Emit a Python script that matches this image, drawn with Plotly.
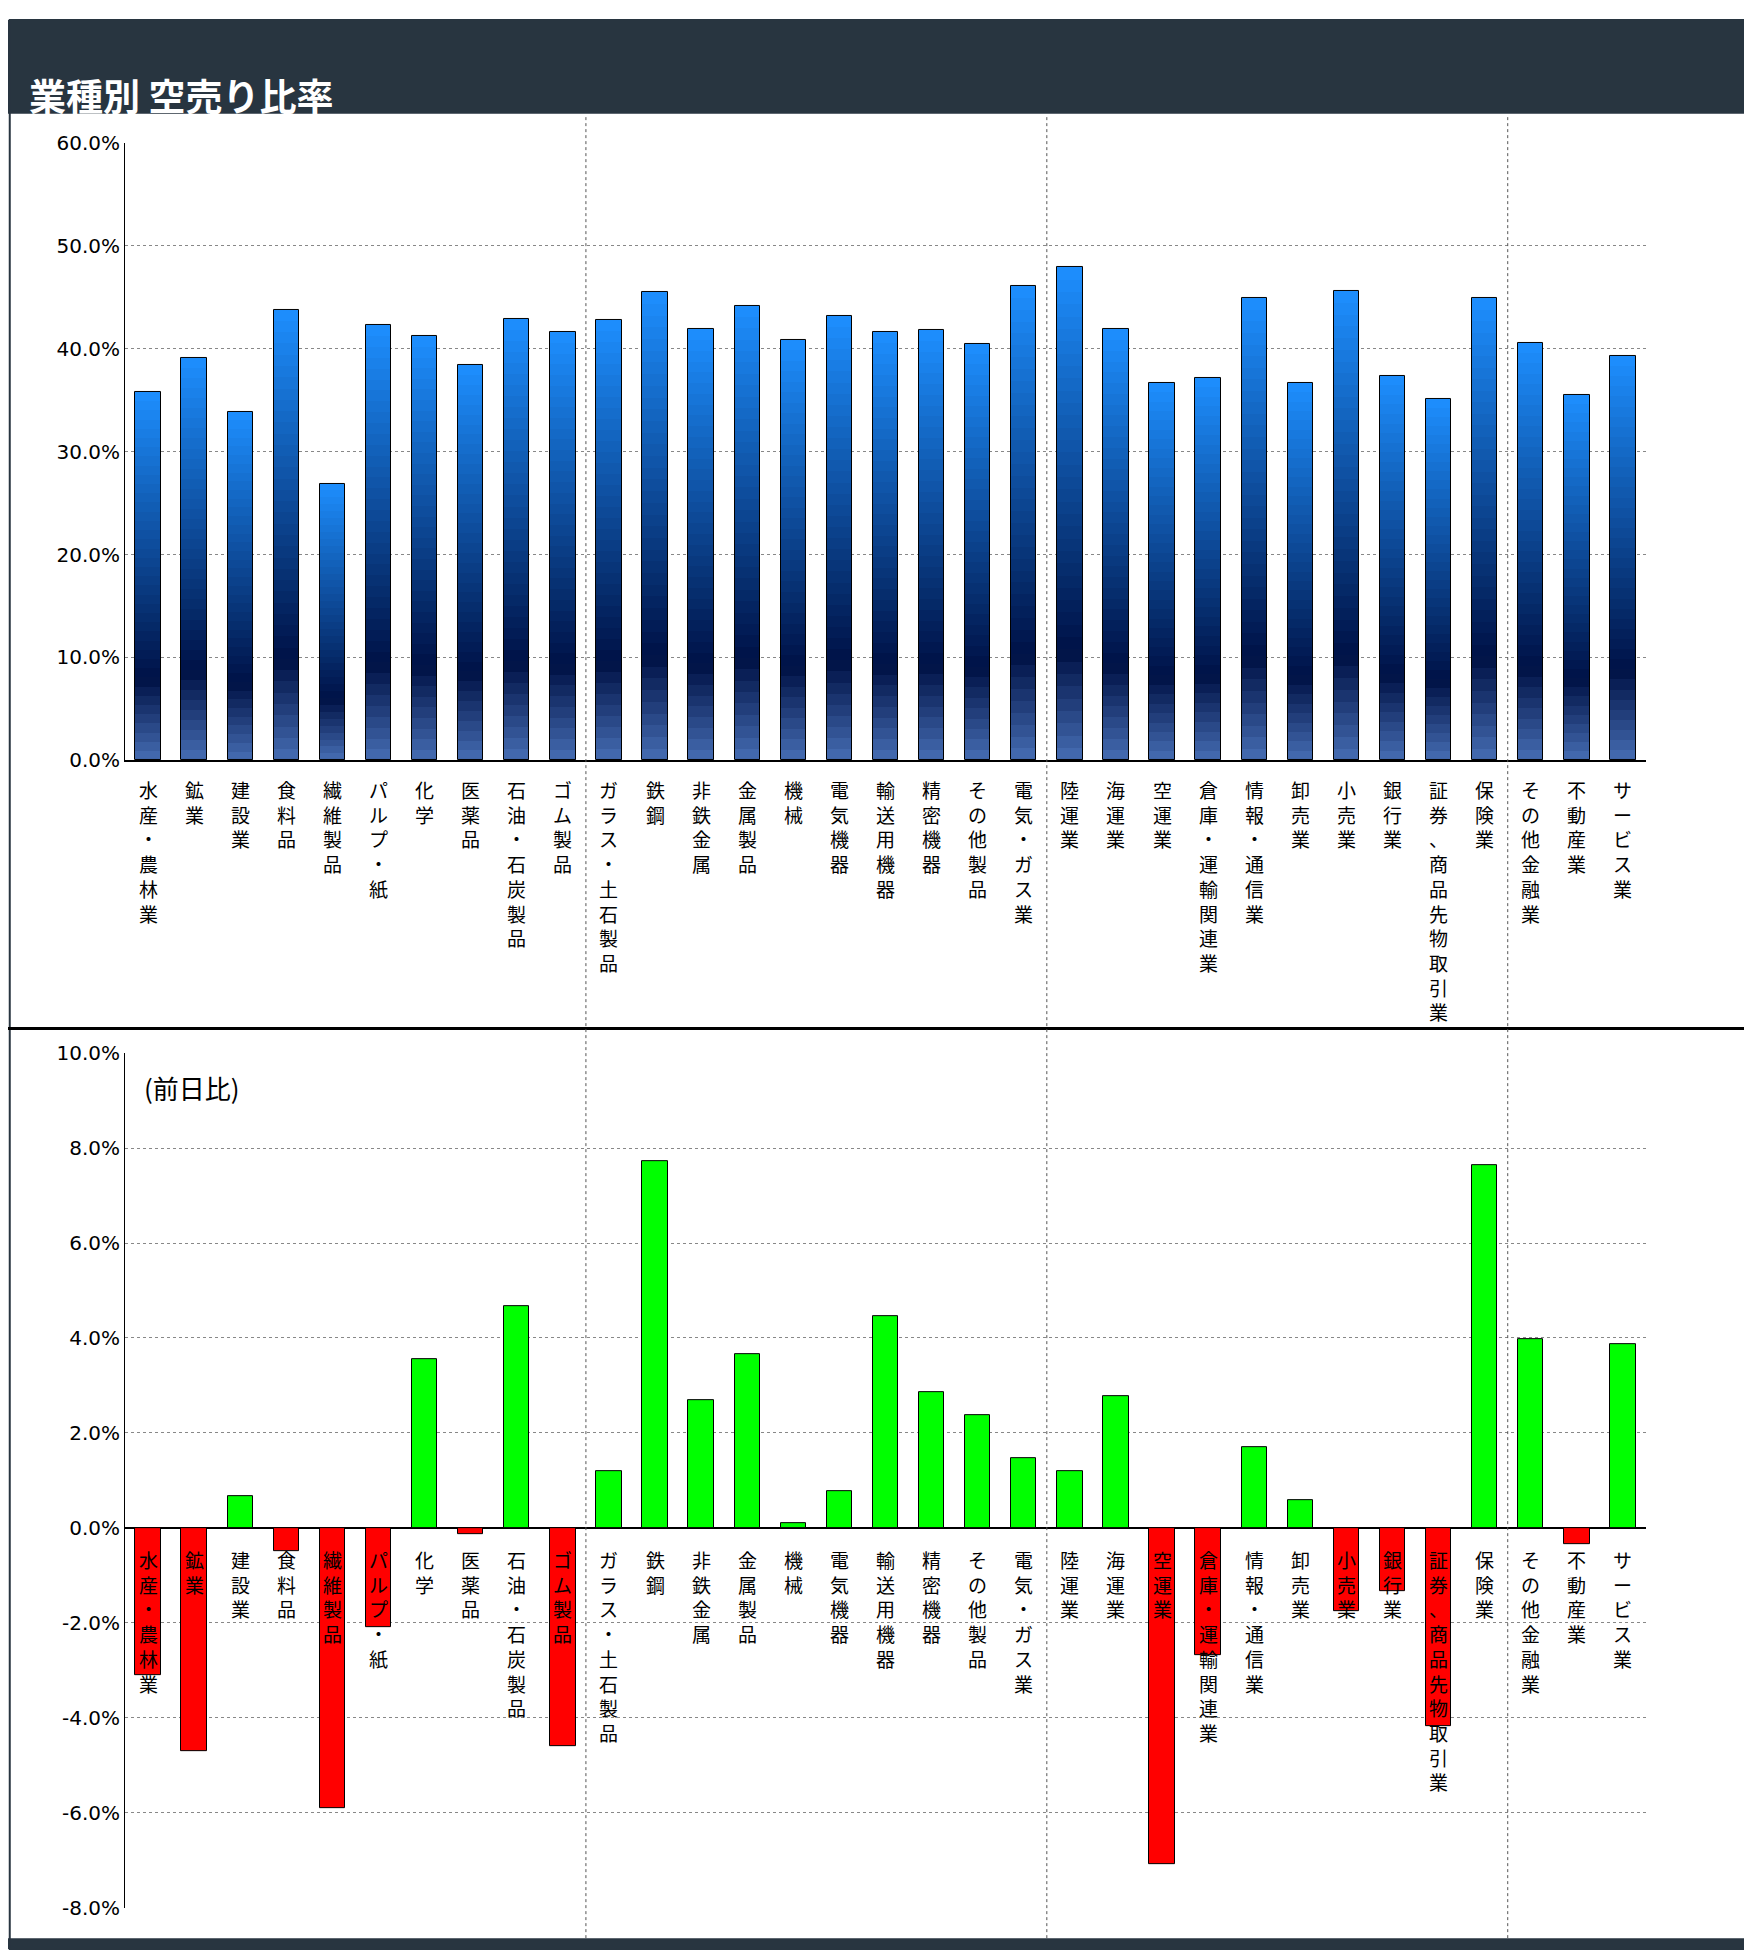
import plotly.graph_objects as go

categories = ["水産・農林業", "鉱業", "建設業", "食料品", "繊維製品", "パルプ・紙", "化学", "医薬品",
              "石油・石炭製品", "ゴム製品", "ガラス・土石製品", "鉄鋼", "非鉄金属", "金属製品", "機械",
              "電気機器", "輸送用機器", "精密機器", "その他製品", "電気・ガス業", "陸運業", "海運業",
              "空運業", "倉庫・運輸関連業", "情報・通信業", "卸売業", "小売業", "銀行業",
              "証券、商品先物取引業", "保険業", "その他金融業", "不動産業", "サービス業"]
short_ratio = [35.8, 39.1, 33.9, 43.8, 26.9, 42.3, 41.2, 38.4, 42.9, 41.6, 42.8, 45.5, 41.9, 44.2,
               40.9, 43.2, 41.6, 41.8, 40.5, 46.1, 47.9, 41.9, 36.7, 37.2, 44.9, 36.7, 45.6, 37.4,
               35.1, 44.9, 40.6, 35.5, 39.3]
day_change = [-3.1, -4.7, 0.67, -0.5, -5.9, -2.1, 3.56, -0.13, 4.67, -4.6, 1.19, 7.73, 2.68, 3.66,
              0.1, 0.77, 4.46, 2.86, 2.37, 1.47, 1.19, 2.78, -7.09, -2.68, 1.70, 0.59, -1.75, -1.34,
              -4.18, 7.63, 3.97, -0.34, 3.87]
top_ticks = [0, 10, 20, 30, 40, 50, 60]
bottom_ticks = [-8, -6, -4, -2, 0, 2, 4, 6, 8, 10]

W, H = 1752, 1953
def py(px):
    return 1 - px / H

xs = list(range(len(categories)))
fig = go.Figure()

# gradient bars (top panel) built from stacked slices
def grad(t):
    stops = [(0.0, (70, 110, 180)), (0.22, (0, 18, 70)), (1.0, (30, 144, 255))]
    for (t0, c0), (t1, c1) in zip(stops, stops[1:]):
        if t <= t1:
            f = (t - t0) / (t1 - t0)
            return "rgb(%d,%d,%d)" % tuple(int(a + (b - a) * f) for a, b in zip(c0, c1))
    return "rgb(30,144,255)"

N = 40
for k in range(N):
    fig.add_trace(go.Bar(x=xs, y=[v / N for v in short_ratio], base=[v * k / N for v in short_ratio],
                         marker=dict(color=grad((k + 0.5) / N), line=dict(width=0)),
                         width=0.55, xaxis="x", yaxis="y", showlegend=False, hoverinfo="skip"))
fig.add_trace(go.Bar(x=xs, y=short_ratio, marker=dict(color="rgba(0,0,0,0)", line=dict(color="black", width=1)),
                     width=0.55, xaxis="x", yaxis="y", showlegend=False))

fig.add_trace(go.Bar(x=xs, y=day_change,
                     marker=dict(color=["#00ff00" if v >= 0 else "#ff0000" for v in day_change],
                                 line=dict(color="black", width=1)),
                     width=0.55, xaxis="x2", yaxis="y2", showlegend=False))

ann = []
for i, c in enumerate(categories):
    t = "<br>".join(list(c))
    for yr, ys in (("y", -14), ("y2", -16)):
        ann.append(dict(x=i, y=0, xref="x" if yr == "y" else "x2", yref=yr, yshift=ys, text=t,
                        showarrow=False, yanchor="top", xanchor="center",
                        font=dict(family="Noto Sans CJK JP", size=19, color="black")))
ann.append(dict(x=134 / W, y=py(1081), xref="paper", yref="paper", text="(前日比)", showarrow=False,
                xanchor="left", font=dict(family="Noto Sans CJK JP", size=26, color="black")))
ann.append(dict(x=19 / W, y=py(47), xref="paper", yref="paper", text="<b>業種別 空売り比率</b>", showarrow=False,
                xanchor="left", font=dict(family="Noto Sans CJK JP", size=37, color="white")))

shapes = [
    dict(type="rect", xref="paper", yref="paper", x0=0, x1=1, y0=py(95), y1=1, fillcolor="#283540", line_width=0, layer="below"),
    dict(type="rect", xref="paper", yref="paper", x0=0, x1=1, y0=0, y1=py(1942), fillcolor="#283540", line_width=0, layer="below"),
    dict(type="rect", xref="paper", yref="paper", x0=0.001, x1=0.999, y0=0, y1=1, line=dict(color="#283540", width=2)),
    dict(type="line", xref="paper", yref="paper", x0=0, x1=1, y0=py(1021), y1=py(1021), line=dict(color="black", width=3)),
]
for b in (9.5, 19.5, 29.5):
    shapes.append(dict(type="line", xref="x", yref="paper", x0=b, x1=b, y0=py(1942), y1=py(97),
                       line=dict(color="#555555", width=1, dash="dot")))

tickfont = dict(family="DejaVu Sans", size=20, color="black")
xdom = [117 / W, 1638 / W]
fig.update_layout(
    width=W, height=H, margin=dict(l=0, r=0, t=0, b=0), paper_bgcolor="white", plot_bgcolor="white",
    barmode="overlay", bargap=0, annotations=ann, shapes=shapes,
    xaxis=dict(domain=xdom, range=[-0.5, 32.5], showticklabels=False, showgrid=False, anchor="y",
               showline=True, linecolor="black", linewidth=1.5),
    yaxis=dict(domain=[py(749.5), py(124.5)], range=[0, 60], tickvals=top_ticks,
               ticktext=["%.1f%%" % v for v in top_ticks], tickfont=tickfont, showgrid=True,
               gridcolor="#888888", griddash="dot", showline=True, linecolor="black", zeroline=False,
               anchor="x", ticks=""),
    xaxis2=dict(domain=xdom, range=[-0.5, 32.5], showticklabels=False, showgrid=False, anchor="y2"),
    yaxis2=dict(domain=[py(1911), py(1046)], range=[-8, 10], tickvals=bottom_ticks,
                ticktext=["%.1f%%" % v for v in bottom_ticks], tickfont=tickfont, showgrid=True,
                gridcolor="#888888", griddash="dot", showline=True, linecolor="black", zeroline=True,
                zerolinecolor="black", zerolinewidth=1.5, anchor="x2", ticks=""),
)
fig.write_html("out.html")
